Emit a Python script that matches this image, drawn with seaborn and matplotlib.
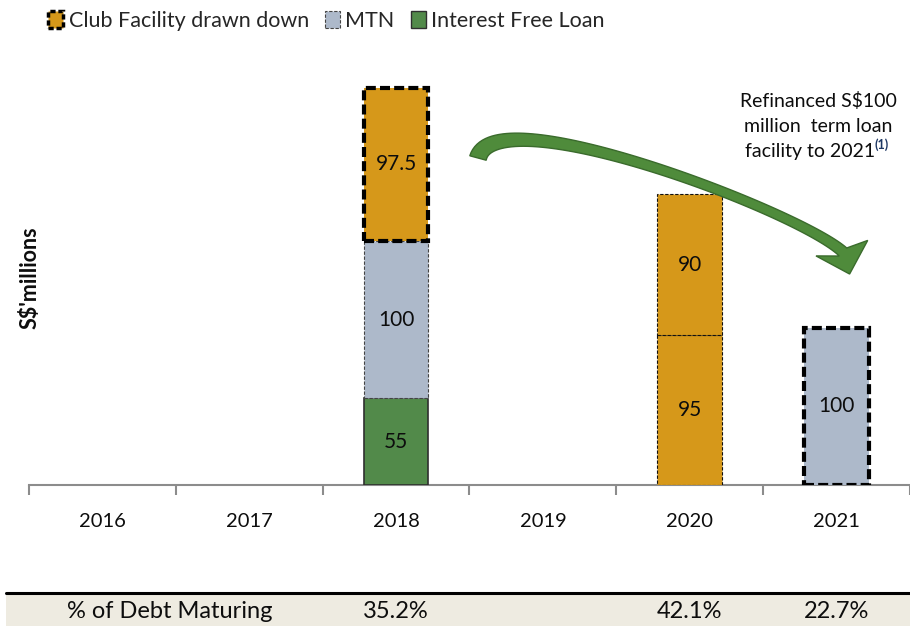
import numpy as np
import pandas as pd
import matplotlib
matplotlib.use("Agg")
import matplotlib.pyplot as plt
import matplotlib.transforms as mtransforms
from matplotlib.patches import Polygon, Rectangle, Patch
from matplotlib.lines import Line2D
import seaborn as sns

# ---- data -------------------------------------------------------------
years = ["2016", "2017", "2018", "2019", "2020", "2021"]
interest_free_loan = [0, 0, 55, 0, 0, 0]
mtn = [0, 0, 100, 0, 0, 100]
club_tranche_a = [0, 0, 0, 0, 95, 0]
club_tranche_b = [0, 0, 97.5, 0, 90, 0]
pct_debt_maturing = ["", "", "35.2%", "", "42.1%", "22.7%"]
table_label = "% of Debt Maturing"

legend_labels = ["Club Facility drawn down", "MTN", "Interest Free Loan"]
annotation_lines = ["Refinanced S$100", "million  term loan", "facility to 2021"]
footnote_mark = "(1)"

# ---- style ------------------------------------------------------------
sns.set_theme(style="white")
plt.rcParams["font.family"] = ["Lato", "DejaVu Sans"]

C_CLUB = "#D6981A"
C_MTN = "#ADB9CA"
C_IFL = "#528A4A"
C_ARROW = "#4F8B3B"
C_ARROW_EDGE = "#3A6B2C"
C_TEXT = "#0d0d0d"

W, H = 910, 626
fig = plt.figure(figsize=(W / 100, H / 100), dpi=100)
ax = fig.add_axes([29 / W, 141 / H, 881 / W, 425 / H])

# bars flagged as refinanced get the heavy dashed outline
refinanced = {("club_b", "2018"), ("mtn", "2021")}

thin_dash = (0, (3, 1.5))
heavy_dash = (0, (2.4, 1.0))

layers = [
    ("ifl", interest_free_loan, C_IFL, dict(edgecolor="#2f2f2f", linewidth=1.2, linestyle="-")),
    ("mtn", mtn, C_MTN, dict(edgecolor="#444444", linewidth=0.8, linestyle=thin_dash)),
    ("club_a", club_tranche_a, C_CLUB, dict(edgecolor="#111111", linewidth=0.8, linestyle=thin_dash)),
    ("club_b", club_tranche_b, C_CLUB, dict(edgecolor="#111111", linewidth=0.8, linestyle=thin_dash)),
]

bottom = np.zeros(len(years))
for key, vals, color, edge in layers:
    vals = np.asarray(vals, dtype=float)
    df = pd.DataFrame({"year": years, "value": vals})
    sns.barplot(data=df, x="year", y="value", order=years, color=color,
                bottom=bottom.copy(), width=0.44, saturation=1, ax=ax,
                errorbar=None)
    container = ax.containers[-1]
    for yr, v, b, bar in zip(years, vals, bottom, container):
        if v <= 0:
            bar.set_visible(False)
            continue
        bar.set_facecolor(color)
        if (key, yr) in refinanced:
            bar.set_edgecolor("black")
            bar.set_linewidth(3.0)
            bar.set_linestyle(heavy_dash)
            bar.set_zorder(4)
        else:
            bar.set_edgecolor(edge["edgecolor"])
            bar.set_linewidth(edge["linewidth"])
            bar.set_linestyle(edge["linestyle"])
            bar.set_zorder(3)
        i = years.index(yr)
        ax.text(i, b + v / 2, f"{v:g}", ha="center", va="center",
                fontsize=15, color=C_TEXT, zorder=5)
    bottom = bottom + vals

# ---- axes -------------------------------------------------------------
ax.set_xlim(-0.5, len(years) - 0.5)
ax.set_ylim(0, 270)
ax.set_yticks([])
ax.set_xlabel("")
ax.set_ylabel("")
ax.set_xticks(range(len(years)))
ax.set_xticklabels(years, fontsize=14.5, color=C_TEXT)
ax.tick_params(axis="x", which="major", length=0, pad=20)
ax.set_xticks(np.arange(-0.5, len(years) - 0.4, 1.0), minor=True)
ax.tick_params(axis="x", which="minor", bottom=True, length=7, width=1.5,
               color="#8c8c8c", direction="out")
for side in ["top", "right", "left"]:
    ax.spines[side].set_visible(False)
ax.spines["bottom"].set_color("#8c8c8c")
ax.spines["bottom"].set_linewidth(1.5)
ax.patch.set_alpha(0)

fig.text(30 / W, 1 - 278 / H, "S$'millions", rotation=90, ha="center",
         va="center", fontsize=15.5, fontweight="bold", color=C_TEXT)

# ---- legend -----------------------------------------------------------
handles = [
    Patch(facecolor=C_CLUB, edgecolor="black", linewidth=2.5, linestyle=(0, (1.5, 0.8))),
    Patch(facecolor=C_MTN, edgecolor="#444444", linewidth=0.8, linestyle=thin_dash),
    Patch(facecolor=C_IFL, edgecolor="#2f2f2f", linewidth=1.0),
]
fig.legend(handles, legend_labels, loc="upper left",
           bbox_to_anchor=(33 / W, 1 + 4 / H), ncol=3, frameon=False,
           fontsize=15.5, handlelength=0.7, handleheight=0.8,
           handletextpad=0.25, columnspacing=0.75, borderpad=0.2)

# ---- annotation + curved arrow ---------------------------------------
ann_x = 818 / W
line_y = [101, 126, 151]
for txt, yy in zip(annotation_lines[:2], line_y[:2]):
    fig.text(ann_x, 1 - yy / H, txt, ha="center", va="center",
             fontsize=14, color=C_TEXT)
last = fig.text(ann_x - 8 / W, 1 - line_y[2] / H, annotation_lines[2],
                ha="center", va="center", fontsize=14, color=C_TEXT)
fig.canvas.draw()
bb = last.get_window_extent().transformed(fig.transFigure.inverted())
fig.text(bb.x1 - 1 / W, 1 - (line_y[2] - 6) / H, footnote_mark, ha="left",
         va="center", fontsize=9, fontweight="bold", color="#1F3864")


def bezier(p, t):
    t = t[:, None]
    return ((1 - t) ** 3 * p[0] + 3 * (1 - t) ** 2 * t * p[1]
            + 3 * (1 - t) * t ** 2 * p[2] + t ** 3 * p[3])


def bezier_d(p, t):
    t = t[:, None]
    return (3 * (1 - t) ** 2 * (p[1] - p[0]) + 6 * (1 - t) * t * (p[2] - p[1])
            + 3 * t ** 2 * (p[3] - p[2]))


# control points in pixel space (y measured downwards from the top)
ctrl = np.array([[478.0, 158.0], [495.0, 95.0], [800.0, 212.0], [843.0, 252.0]])
ts = np.linspace(0, 1, 80)
centre = bezier(ctrl, ts)
deriv = bezier_d(ctrl, ts)
tang = deriv / np.linalg.norm(deriv, axis=1)[:, None]
normal = np.column_stack([-tang[:, 1], tang[:, 0]])
width = 17 * (1 - ts) ** 2 + 6 * 2 * ts * (1 - ts) + 11 * ts ** 2
left = centre + normal * (width / 2)[:, None]
right = centre - normal * (width / 2)[:, None]

# arrow head
end = centre[-1]
head_dir = np.array([0.3, 1.0])
head_dir /= np.linalg.norm(head_dir)
head_nrm = np.array([-head_dir[1], head_dir[0]])
tip = end + head_dir * 23
barb_a = end + head_nrm * 27 - head_dir * 4
barb_b = end - head_nrm * 27 - head_dir * 4
if np.dot(barb_a - barb_b, normal[-1]) < 0:
    barb_a, barb_b = barb_b, barb_a

outline = np.vstack([left, barb_a[None, :], tip[None, :], barb_b[None, :], right[::-1]])
outline_fig = np.column_stack([outline[:, 0] / W, 1 - outline[:, 1] / H])
fig.add_artist(Polygon(outline_fig, closed=True, transform=fig.transFigure,
                       facecolor=C_ARROW, edgecolor=C_ARROW_EDGE, linewidth=1.0,
                       joinstyle="miter", zorder=6))

# ---- table row --------------------------------------------------------
band_h = 33 / H
fig.add_artist(Rectangle((6 / W, 0), 1 - 6 / W, band_h, transform=fig.transFigure,
                         facecolor="#EEEBE1", edgecolor="none", zorder=1))
fig.add_artist(Line2D([6 / W, 1], [band_h, band_h], transform=fig.transFigure,
                      color="black", linewidth=2.2, zorder=2))
row_y = 1 - 611 / H
fig.text(170 / W, row_y, table_label, ha="center", va="center",
         fontsize=17, color=C_TEXT, zorder=3)
blend = mtransforms.blended_transform_factory(ax.transData, fig.transFigure)
for i, val in enumerate(pct_debt_maturing):
    if val:
        fig.text(i, row_y, val, transform=blend, ha="center", va="center",
                 fontsize=17, color=C_TEXT, zorder=3)

fig.savefig("out.png", dpi=100)
